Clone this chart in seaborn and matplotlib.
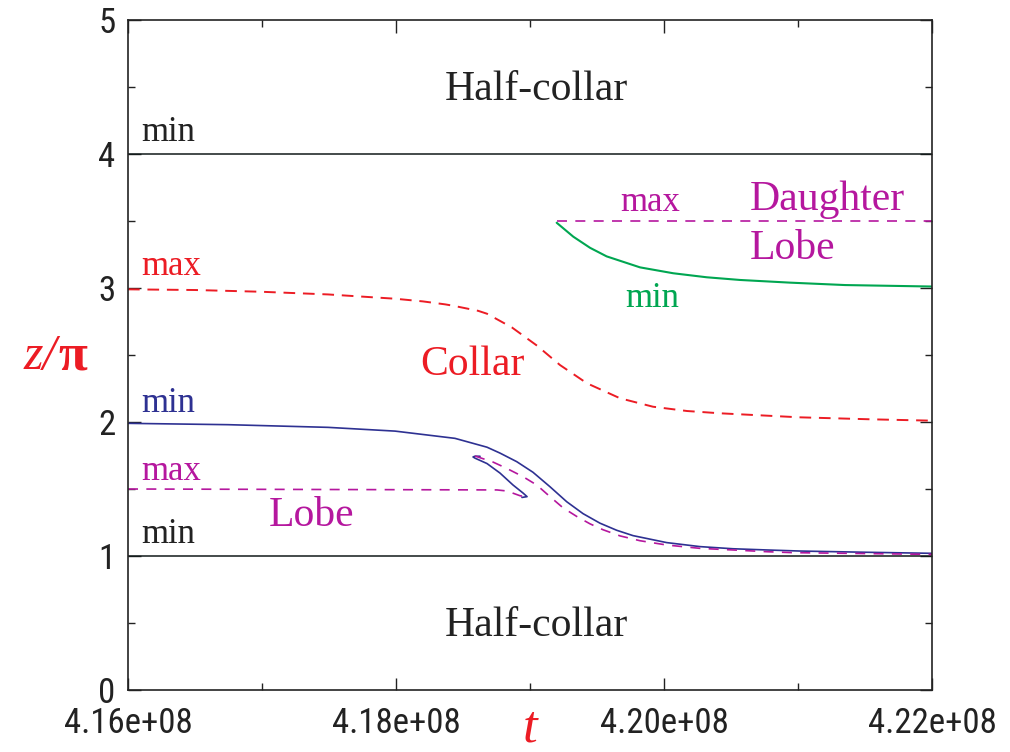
import matplotlib
matplotlib.use("Agg")
import matplotlib.pyplot as plt
import seaborn as sns
from matplotlib import font_manager
from matplotlib.ticker import MultipleLocator, FormatStrFormatter

# ---------------- data (t, z in units of pi) ----------------
halfcollar_min_top = 4.0
halfcollar_min_bot = 1.0
t_range = [4.16e8, 4.22e8]

collar_max_t = [4.16000e8, 4.16500e8, 4.16993e8, 4.17493e8, 4.17993e8, 4.18201e8, 4.18366e8,
                4.18425e8, 4.18612e8, 4.18679e8, 4.18866e8, 4.19052e8, 4.19224e8, 4.19425e8,
                4.19672e8, 4.19918e8, 4.20172e8, 4.20418e8, 4.21010e8, 4.21546e8, 4.22000e8]
collar_max_z = [2.990, 2.985, 2.972, 2.952, 2.920, 2.900, 2.878,
                2.868, 2.830, 2.808, 2.705, 2.570, 2.425, 2.289,
                2.177, 2.114, 2.082, 2.065, 2.035, 2.020, 2.010]

lobe_min_t = [4.16000e8, 4.16746e8, 4.17493e8, 4.17993e8, 4.18440e8, 4.18679e8, 4.18776e8,
              4.18901e8, 4.19022e8, 4.19149e8, 4.19274e8, 4.19396e8, 4.19522e8, 4.19647e8,
              4.19769e8, 4.20020e8, 4.20269e8, 4.20515e8, 4.20769e8, 4.21015e8, 4.21500e8,
              4.22000e8]
lobe_min_z = [1.990, 1.980, 1.960, 1.932, 1.878, 1.812, 1.768,
              1.704, 1.625, 1.517, 1.405, 1.316, 1.245, 1.192,
              1.152, 1.100, 1.070, 1.054, 1.045, 1.037, 1.028,
              1.020]

lobe_fold_t = [4.18627e8, 4.18590e8, 4.18575e8, 4.18590e8, 4.18679e8, 4.18776e8, 4.18873e8,
               4.18948e8, 4.18978e8, 4.18940e8]
lobe_fold_z = [1.744, 1.745, 1.739, 1.730, 1.690, 1.619, 1.530,
               1.470, 1.443, 1.437]

lobe_max_t = [4.16000e8, 4.18754e8, 4.18828e8, 4.18925e8, 4.18978e8]
lobe_max_z = [1.500, 1.493, 1.485, 1.450, 1.440]

lobe_max2_t = [4.18590e8, 4.18724e8, 4.18826e8, 4.18948e8, 4.19050e8, 4.19149e8, 4.19246e8,
               4.19349e8, 4.19448e8, 4.19545e8, 4.19672e8, 4.19821e8, 4.20020e8, 4.20269e8,
               4.20515e8, 4.20769e8, 4.20963e8, 4.22000e8]
lobe_max2_z = [1.746, 1.701, 1.654, 1.592, 1.530, 1.443, 1.360,
               1.295, 1.240, 1.196, 1.150, 1.114, 1.082, 1.057,
               1.045, 1.032, 1.025, 1.012]

daughter_min_t = [4.19199e8, 4.19323e8, 4.19448e8, 4.19572e8, 4.19821e8, 4.20069e8,
                  4.20319e8, 4.20567e8, 4.20940e8, 4.21351e8, 4.22000e8]
daughter_min_z = [3.487, 3.383, 3.300, 3.236, 3.154, 3.110,
                  3.080, 3.060, 3.040, 3.022, 3.011]

daughter_max_t = [4.19199e8, 4.22000e8]
daughter_max_z = [3.5, 3.5]

# ---------------- style ----------------
sns.set_style("ticks")
plt.rcParams['font.family'] = ['Liberation Serif', 'DejaVu Serif']

installed = {f.name for f in font_manager.fontManager.ttflist}
tick_font, tick_size = 'Liberation Sans', 21
for cand, size in [('Liberation Sans Narrow', 25), ('DejaVu Sans Condensed', 22),
                   ('Roboto Condensed', 25), ('Open Sans Condensed', 25)]:
    if cand in installed:
        tick_font, tick_size = cand, size
        break

RED = '#ec1c24'
BLUE = '#2e3192'
MAG = '#b5179e'
GREEN = '#00a651'
BLACK = '#111a1a'

fig = plt.figure(figsize=(10.10, 7.52), dpi=100)
ax = fig.add_axes([128/1010, 1-690/752, 804/1010, 670/752])


def draw(t, z, color, width=1.1, dashes=None):
    sns.lineplot(x=t, y=z, ax=ax, color=color, lw=width, sort=False, estimator=None)
    if dashes is not None:
        ax.lines[-1].set_dashes(dashes)


draw(t_range, [halfcollar_min_top]*2, BLACK)
draw(t_range, [halfcollar_min_bot]*2, BLACK)
draw(collar_max_t, collar_max_z, RED, width=1.4, dashes=(6, 4))
draw(lobe_min_t, lobe_min_z, BLUE, width=1.2)
draw(lobe_fold_t, lobe_fold_z, BLUE, width=1.2)
draw(lobe_max_t, lobe_max_z, MAG, width=1.2, dashes=(6, 5))
draw(lobe_max2_t, lobe_max2_z, MAG, width=1.2, dashes=(6, 5))
draw(daughter_min_t, daughter_min_z, GREEN, width=1.5)
draw(daughter_max_t, daughter_max_z, MAG, width=1.2, dashes=(6, 5))

ax.set_xlim(4.16e8, 4.22e8)
ax.set_ylim(0, 5)
ax.xaxis.set_major_locator(MultipleLocator(0.02e8))
ax.xaxis.set_minor_locator(MultipleLocator(0.01e8))
ax.yaxis.set_major_locator(MultipleLocator(1))
ax.yaxis.set_minor_locator(MultipleLocator(0.5))
ax.xaxis.set_major_formatter(FormatStrFormatter('%.2e'))
ax.yaxis.set_major_formatter(FormatStrFormatter('%d'))
ax.tick_params(which='both', direction='in', top=True, right=True, color='#222222', width=1.0)
ax.tick_params(which='major', length=9)
ax.tick_params(which='minor', length=5)
ax.tick_params(axis='x', which='major', pad=12)
ax.tick_params(axis='y', which='major', pad=9)
for lab in ax.get_xticklabels() + ax.get_yticklabels():
    lab.set_family([tick_font, 'DejaVu Sans'])
    lab.set_fontsize(tick_size)
    lab.set_color('#222222')
for sp in ax.spines.values():
    sp.set_linewidth(1.2)
    sp.set_color('#222222')
ax.set_xlabel('')
ax.set_ylabel('')

# axis labels
fig.text(530/1010, 1-728/752, 't', color=RED, fontsize=38, style='italic', ha='center', va='center')
fig.text(57/1010, 1-357/752, 'z/', color=RED, fontsize=36, style='italic', ha='right', va='center')
fig.text(58/1010, 1-357/752, 'π', color=RED, fontsize=38, weight='bold', ha='left', va='center')

# annotations
big = 30
small = 25
ax.text(4.1905e8, 4.48, 'Half-collar', fontsize=big, color='#222222', ha='center', va='center')
ax.text(4.1905e8, 0.48, 'Half-collar', fontsize=big, color='#222222', ha='center', va='center')
ax.text(4.1610e8, 4.16, 'min', fontsize=small, color='#222222', ha='left', va='center')
ax.text(4.1610e8, 3.16, 'max', fontsize=small, color=RED, ha='left', va='center')
ax.text(4.1610e8, 2.14, 'min', fontsize=small, color=BLUE, ha='left', va='center')
ax.text(4.1610e8, 1.63, 'max', fontsize=small, color=MAG, ha='left', va='center')
ax.text(4.1610e8, 1.16, 'min', fontsize=small, color='#222222', ha='left', va='center')
ax.text(4.1857e8, 2.43, 'Collar', fontsize=big, color=RED, ha='center', va='center')
ax.text(4.1737e8, 1.30, 'Lobe', fontsize=big, color=MAG, ha='center', va='center')
ax.text(4.1990e8, 3.64, 'max', fontsize=small, color=MAG, ha='center', va='center')
ax.text(4.2122e8, 3.66, 'Daughter', fontsize=big, color=MAG, ha='center', va='center')
ax.text(4.2096e8, 3.29, 'Lobe', fontsize=big, color=MAG, ha='center', va='center')
ax.text(4.1991e8, 2.92, 'min', fontsize=small, color=GREEN, ha='center', va='center')

fig.savefig('out.png', dpi=100, facecolor='white')
